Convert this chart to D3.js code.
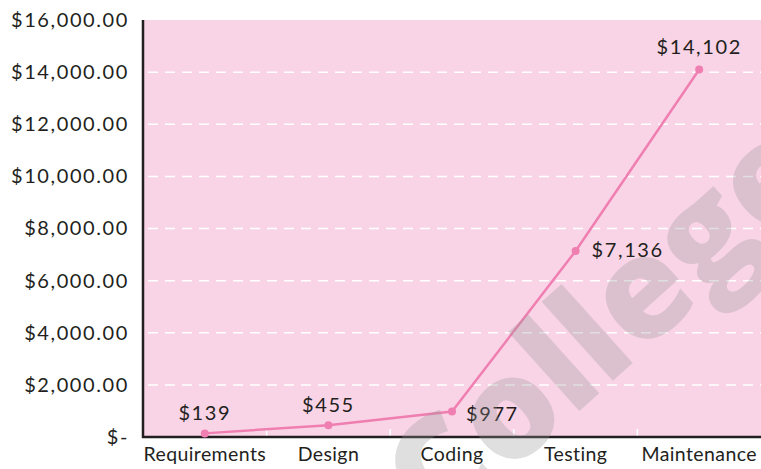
<!DOCTYPE html>
<html>
<head>
<meta charset="utf-8">
<script src="https://cdn.jsdelivr.net/npm/d3@7/dist/d3.min.js"></script>
<style>
  html, body { margin: 0; padding: 0; background: #ffffff; }
  svg { display: block; }
  text { font-family: "Lato", "Open Sans", sans-serif; fill: #231f20; }
</style>
</head>
<body>
<svg id="chart" width="761" height="469"></svg>
<script>
// Cost of fixing a defect by development phase
const phases = ["Requirements", "Design", "Coding", "Testing", "Maintenance"];
const costs = [139, 455, 977, 7136, 14102];
const costLabels = ["$139", "$455", "$977", "$7,136", "$14,102"];
const yTicks = [0, 2000, 4000, 6000, 8000, 10000, 12000, 14000, 16000];
const yTickLabels = ["$-", "$2,000.00", "$4,000.00", "$6,000.00", "$8,000.00",
  "$10,000.00", "$12,000.00", "$14,000.00", "$16,000.00"];

const W = 761, H = 469;
const margin = { top: 20, right: 0, bottom: 32, left: 143 };
const svg = d3.select("#chart");
const FONT = "Lato, 'Open Sans', sans-serif";
const INK = "#231f20";

const x = d3.scaleBand().domain(phases).range([margin.left, W - margin.right]);
const y = d3.scaleLinear().domain([0, 16000]).range([H - margin.bottom, margin.top]);

// plot background
svg.append("rect")
  .attr("x", margin.left).attr("y", margin.top)
  .attr("width", W - margin.right - margin.left)
  .attr("height", H - margin.bottom - margin.top)
  .attr("fill", "#f9d4e6");

// dashed horizontal gridlines
svg.append("g")
  .selectAll("line")
  .data(yTicks.filter(v => v > 0 && v < 16000))
  .join("line")
  .attr("x1", margin.left + 5).attr("x2", W)
  .attr("y1", d => y(d)).attr("y2", d => y(d))
  .attr("stroke", "#ffffff").attr("stroke-width", 1.5)
  .attr("stroke-dasharray", "10,7");

// white category separators rising from the x axis
const boundaries = phases.slice(1).map(p => x(p));
svg.append("g")
  .selectAll("line")
  .data(boundaries)
  .join("line")
  .attr("x1", d => d).attr("x2", d => d)
  .attr("y1", y(0)).attr("y2", y(0) - 8)
  .attr("stroke", "#ffffff").attr("stroke-width", 1.5);

// y axis labels
const yAxis = d3.axisLeft(y)
  .tickValues(yTicks)
  .tickFormat((d, i) => yTickLabels[i])
  .tickSize(0).tickPadding(14);
const gy = svg.append("g")
  .attr("transform", `translate(${margin.left},0)`)
  .call(yAxis);
gy.select(".domain").remove();
gy.selectAll("text")
  .attr("font-size", 20)
  .attr("font-family", FONT)
  .attr("letter-spacing", 1.6)
  .attr("fill", INK);

// x axis labels
const xAxis = d3.axisBottom(x).tickSize(0).tickPadding(10);
const gx = svg.append("g")
  .attr("transform", `translate(0,${y(0)})`)
  .call(xAxis);
gx.select(".domain").remove();
gx.selectAll("text")
  .attr("font-size", 19.5)
  .attr("font-family", FONT)
  .attr("letter-spacing", 0.4)
  .attr("fill", INK);

// axis lines
svg.append("line")
  .attr("x1", margin.left).attr("x2", margin.left)
  .attr("y1", margin.top).attr("y2", y(0) + 1)
  .attr("stroke", INK).attr("stroke-width", 2.5);
svg.append("line")
  .attr("x1", margin.left - 1).attr("x2", W)
  .attr("y1", y(0)).attr("y2", y(0))
  .attr("stroke", INK).attr("stroke-width", 2.5);

// cost line and markers
const px = d => x(d) + x.bandwidth() / 2;
const line = d3.line().x((d, i) => px(phases[i])).y(d => y(d));
svg.append("path")
  .datum(costs)
  .attr("d", line)
  .attr("fill", "none")
  .attr("stroke", "#f07fb1")
  .attr("stroke-width", 2.5);
svg.append("g")
  .selectAll("circle")
  .data(costs)
  .join("circle")
  .attr("cx", (d, i) => px(phases[i]))
  .attr("cy", d => y(d))
  .attr("r", 4)
  .attr("fill", "#f07fb1");

// value labels: first two and last centred above, middle two to the right
const labelPos = [
  { dx: 0, dy: -13, anchor: "middle" },
  { dx: 0, dy: -13, anchor: "middle" },
  { dx: 14, dy: 9, anchor: "start" },
  { dx: 16, dy: 6, anchor: "start" },
  { dx: 0, dy: -15, anchor: "middle" }
];
svg.append("g")
  .selectAll("text")
  .data(costs)
  .join("text")
  .attr("x", (d, i) => px(phases[i]) + labelPos[i].dx)
  .attr("y", (d, i) => y(d) + labelPos[i].dy)
  .attr("text-anchor", (d, i) => labelPos[i].anchor)
  .attr("font-size", 20)
  .attr("letter-spacing", 1.6)
  .text((d, i) => costLabels[i]);

// translucent watermark across the lower right
svg.append("text")
  .attr("transform", "translate(610,333) rotate(-42)")
  .attr("text-anchor", "middle")
  .attr("dominant-baseline", "middle")
  .style("font-family", "'Open Sans', 'DejaVu Sans', sans-serif")
  .style("font-weight", 800)
  .style("font-size", "140px")
  .style("fill", "rgba(150,150,150,0.3)")
  .text("College");
</script>
</body>
</html>
